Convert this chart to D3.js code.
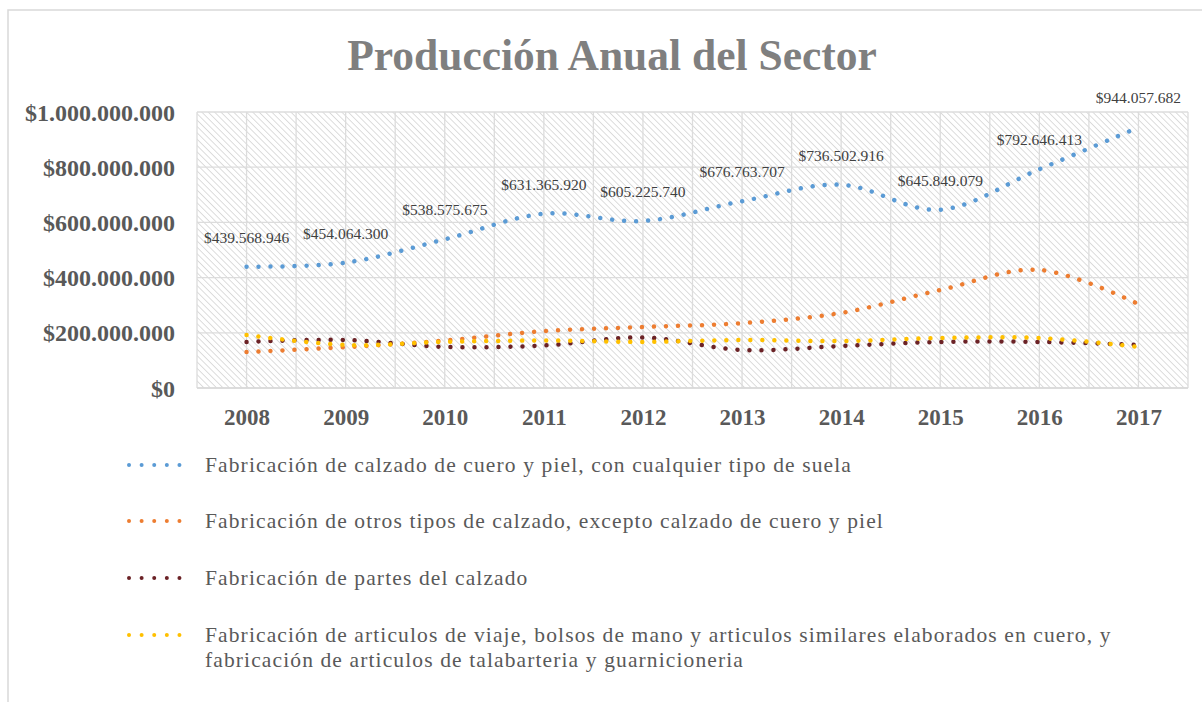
<!DOCTYPE html>
<html>
<head>
<meta charset="utf-8">
<script src="https://cdn.jsdelivr.net/npm/d3@7/dist/d3.min.js"></script>
<style>
  html, body { margin: 0; padding: 0; background: #ffffff; }
  svg { display: block; }
</style>
</head>
<body>
<svg id="chart" width="1202" height="702"></svg>
<script>
// ---------------- DATA ----------------
const years = ["2008","2009","2010","2011","2012","2013","2014","2015","2016","2017"];
const seriesNames = [
  "Fabricación de calzado de cuero y piel, con cualquier tipo de suela",
  "Fabricación de otros tipos de calzado, excepto calzado de cuero y piel",
  "Fabricación de partes del calzado",
  "Fabricación de articulos de viaje, bolsos de mano y articulos similares elaborados en cuero, y|fabricación de articulos de talabarteria y guarnicioneria"
];
const calzadoCuero = [439568946, 454064300, 538575675, 631365920, 605225740, 676763707, 736502916, 645849079, 792646413, 944057682];
const otrosCalzado = [130000000, 148000000, 172000000, 206000000, 221000000, 235000000, 272000000, 355000000, 428000000, 304000000];
const partesCalzado = [167000000, 174000000, 149000000, 154000000, 183000000, 138000000, 152000000, 167000000, 167000000, 156000000];
const articulosViaje = [192000000, 156000000, 167000000, 172000000, 167000000, 174000000, 170000000, 181000000, 181000000, 149000000];
const yTicks = [0, 200000000, 400000000, 600000000, 800000000, 1000000000];
const seriesColors = ["#5b9bd5", "#ed7d31", "#6b2226", "#ffc000"];
const titleText = "Producción Anual del Sector";

// ---------------- LAYOUT ----------------
const svg = d3.select("#chart");
const W = 1202, H = 702;
const plot = { left: 197, right: 1188, top: 112, bottom: 388 };
const serif = "'Liberation Serif', 'Times New Roman', serif";

const loc = d3.formatLocale({ decimal: ",", thousands: ".", grouping: [3], currency: ["$", ""] });
const fmt = loc.format("$,.0f");

const x = d3.scalePoint().domain(years).range([plot.left, plot.right]).padding(0.5);
const y = d3.scaleLinear().domain([0, 1000000000]).range([plot.bottom, plot.top]);

// chart area border
svg.append("rect").attr("x", 0).attr("y", 0).attr("width", W).attr("height", H).attr("fill", "#fff");
svg.append("path")
  .attr("d", `M8,${H} L8,10 L${W},10`)
  .attr("fill", "none").attr("stroke", "#d9d9d9").attr("stroke-width", 1.5);

// hatch pattern
const defs = svg.append("defs");
const pat = defs.append("pattern")
  .attr("id", "hatch").attr("patternUnits", "userSpaceOnUse")
  .attr("width", 4.5).attr("height", 4.5)
  .attr("patternTransform", "rotate(-45)");
pat.append("rect").attr("width", 4.5).attr("height", 4.5).attr("fill", "#ffffff");
pat.append("line").attr("x1", 0).attr("y1", 0).attr("x2", 0).attr("y2", 4.5)
  .attr("stroke", "#c6c6c6").attr("stroke-width", 1.2);

svg.append("rect")
  .attr("x", plot.left).attr("y", plot.top)
  .attr("width", plot.right - plot.left).attr("height", plot.bottom - plot.top)
  .attr("fill", "url(#hatch)");

// gridlines
const grid = svg.append("g").attr("stroke", "#dcdcdc").attr("stroke-width", 1.3);
yTicks.forEach(t => {
  grid.append("line").attr("x1", plot.left).attr("x2", plot.right)
    .attr("y1", y(t)).attr("y2", y(t));
});
const step = x.step();
const vLines = [];
for (let i = 0; i <= years.length * 2; i++) vLines.push(plot.left + i * step / 2);
vLines.forEach(v => {
  grid.append("line").attr("x1", v).attr("x2", v).attr("y1", plot.top).attr("y2", plot.bottom);
});

// y axis labels
const yAxis = d3.axisLeft(y).tickValues(yTicks).tickFormat(fmt).tickSize(0).tickPadding(0);
const yg = svg.append("g").attr("transform", `translate(175,0)`).call(yAxis);
yg.select(".domain").remove();
yg.selectAll("text")
  .attr("font-family", serif).attr("font-weight", "bold").attr("font-size", 24)
  .attr("fill", "#595959").attr("dy", "0.34em");

// x axis labels
const xAxis = d3.axisBottom(x).tickSize(0).tickPadding(0);
const xg = svg.append("g").attr("transform", `translate(0,${plot.bottom})`).call(xAxis);
xg.select(".domain").attr("stroke", "#d9d9d9").attr("stroke-width", 1.5)
  .attr("d", `M${plot.left},0H${plot.right}`);
xg.selectAll("text")
  .attr("font-family", serif).attr("font-weight", "bold").attr("font-size", 23)
  .attr("fill", "#595959").attr("y", 37).attr("dy", 0);

// title
svg.append("text")
  .attr("x", 612).attr("y", 70).attr("text-anchor", "middle")
  .attr("font-family", serif).attr("font-weight", "bold").attr("font-size", 43.5)
  .attr("fill", "#7f7f7f").text(titleText);

// series
const allSeries = [calzadoCuero, otrosCalzado, partesCalzado, articulosViaje];
const line = d3.line()
  .x((d, i) => x(years[i]))
  .y(d => y(d))
  .curve(d3.curveCardinal.tension(0));

allSeries.forEach((vals, si) => {
  svg.append("path")
    .datum(vals)
    .attr("d", line)
    .attr("fill", "none")
    .attr("stroke", seriesColors[si])
    .attr("stroke-width", 4.5)
    .attr("stroke-linecap", "round")
    .attr("stroke-dasharray", "0.01 12");
});

// data labels for first series
svg.append("g").selectAll("text")
  .data(calzadoCuero)
  .join("text")
  .attr("x", (d, i) => x(years[i]))
  .attr("y", d => y(d) - 24)
  .attr("text-anchor", "middle")
  .attr("font-family", serif).attr("font-size", 15.5)
  .attr("fill", "#404040")
  .text(d => fmt(d));

// legend
const legendTop = [465, 521, 578, 635];
const lg = svg.append("g");
seriesNames.forEach((name, i) => {
  const cy = legendTop[i];
  lg.append("line")
    .attr("x1", 129).attr("x2", 192).attr("y1", cy).attr("y2", cy)
    .attr("stroke", seriesColors[i]).attr("stroke-width", 4)
    .attr("stroke-linecap", "round").attr("stroke-dasharray", "0.01 12.6");
  const parts = name.split("|");
  parts.forEach((p, j) => {
    lg.append("text")
      .attr("x", 205).attr("y", cy + 7 + j * 25)
      .attr("font-family", serif).attr("font-size", 21.5)
      .attr("letter-spacing", "1.12px")
      .attr("fill", "#595959").text(p);
  });
});
</script>
</body>
</html>
